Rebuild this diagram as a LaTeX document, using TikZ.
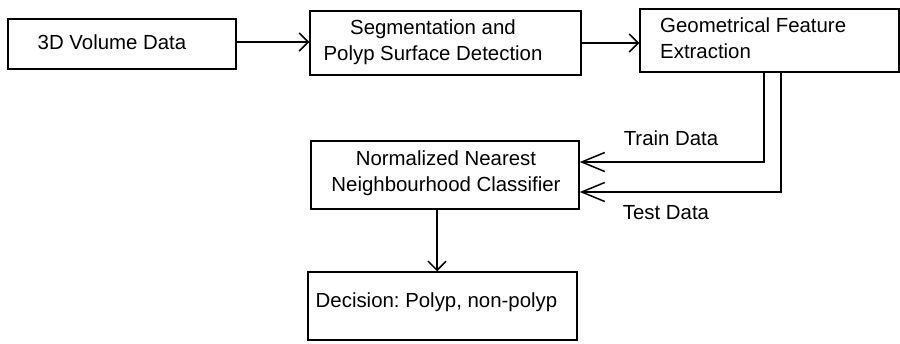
\documentclass[tikz,border=0pt]{standalone}
\usepackage{fontspec}
\setmainfont{Liberation Sans}
\usepackage{tikz}
\usetikzlibrary{arrows.meta}
\frenchspacing

\begin{document}
\begin{tikzpicture}[x=1pt,y=-1pt,
		box/.style={draw,line width=1.5pt,inner sep=0pt},
		txt/.style={font=\fontsize{20.4}{26}\selectfont,inner sep=0pt},
		flow/.style={line width=1.5pt,-{Straight Barb[length=9pt,width=18pt]}},
		feed/.style={line width=1.5pt,-{Straight Barb[length=23pt,width=19pt]}}]
		\useasboundingbox (0,0) rectangle (900,343);
		
		\node[box,minimum width=228pt,minimum height=50pt] (vol) at (122,44) {};
		\node[txt] (volT) at (112,42) {3D Volume Data};
		
		\node[box,minimum width=271pt,minimum height=64pt] (seg) at (445.5,43) {};
		\node[txt,align=center] (segT) at (433,42) {Segmentation and\\Polyp Surface Detection};
		
		\node[box,minimum width=259pt,minimum height=63pt] (feat) at (769.5,40.5) {};
		\node[txt,align=left,anchor=west] (featT) at (660,38) {Geometrical Feature\\Extraction};
		
		\node[box,minimum width=268pt,minimum height=68pt] (nnc) at (445,175) {};
		\node[txt,align=center] (nncT) at (446,173) {Normalized Nearest\\Neighbourhood Classifier};
		
		\node[box,minimum width=269pt,minimum height=68pt] (dec) at (442.5,306) {};
		\node[txt] (decT) at (436.5,302) {Decision: Polyp, non-polyp};
		
		\draw[flow] ([yshift=2pt]vol.east) -- ([yshift=2pt]vol.east -| seg.west);
		\draw[flow] (seg.east) -- (seg.east -| feat.west);
		\draw[feed] ([xshift=-5.5pt]feat.south) |- ([yshift=13pt]nnc.east);
		\draw[feed] ([xshift=11.5pt]feat.south) |- ([yshift=-17pt]nnc.east);
		\draw[flow] ([xshift=-8pt]nnc.south) -- ([xshift=-8pt]nnc.south |- dec.north);
		
		\node[txt] (train) at (671,138) {Train Data};
		\node[txt] (test) at (666,213) {Test Data};
\end{tikzpicture}
\end{document}
